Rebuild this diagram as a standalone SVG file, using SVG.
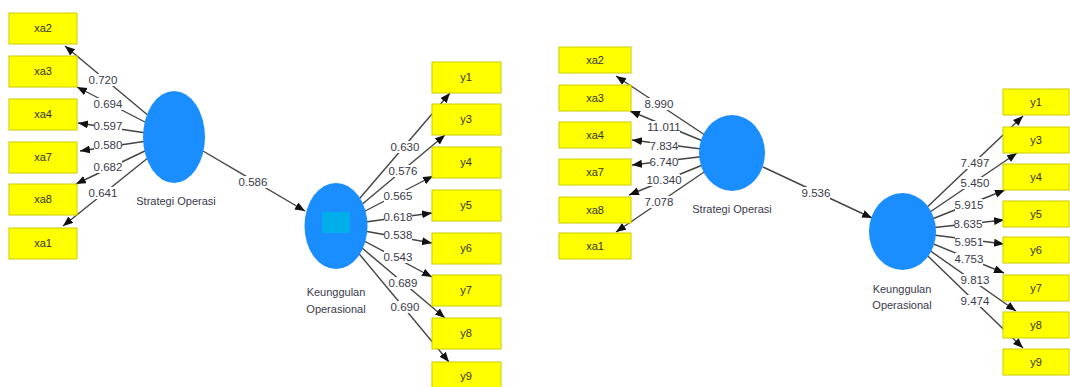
<svg xmlns="http://www.w3.org/2000/svg" width="1070" height="387" viewBox="0 0 1070 387">
  <defs>
    <marker id="arrow" markerUnits="userSpaceOnUse" markerWidth="11" markerHeight="9" refX="10" refY="4" orient="auto">
      <path d="M0,0 L10,4 L0,8 z" fill="#111"/>
    </marker>
    <style>
      .ind rect { fill: #ffff00; stroke: #cccc00; stroke-width: 1; }
      .ind text { font-family: "Liberation Sans", Arial, sans-serif; font-size: 11px; fill: #333; text-anchor: middle; }
      .lv ellipse { fill: #1b8eff; }
      .lv text { font-family: "Liberation Sans", Arial, sans-serif; font-size: 11px; fill: #3a3a4a; text-anchor: middle; }
      .edge line { stroke: #444; stroke-width: 1.4; marker-end: url(#arrow); }
      .lbl rect { fill: #fff; }
      .lbl text { font-family: "Liberation Sans", Arial, sans-serif; font-size: 11.5px; fill: #3a3a4a; text-anchor: middle; }
    </style>
  </defs>
  <rect width="1070" height="387" fill="#fff"/>

  <!-- connectors: outer loadings, path coefficients and their value labels -->
  <g id="connectors">
    <g class="edge">
      <!-- left model: Strategi Operasi -> xa indicators -->
      <line x1="174" y1="137" x2="65" y2="46"/>
      <line x1="174" y1="137" x2="77" y2="87"/>
      <line x1="174" y1="137" x2="78" y2="123"/>
      <line x1="174" y1="137" x2="80" y2="151"/>
      <line x1="174" y1="137" x2="76" y2="184"/>
      <line x1="174" y1="137" x2="63" y2="226"/>
      <!-- left model: structural path -->
      <line x1="203" y1="151" x2="305" y2="211"/>
      <!-- left model: Keunggulan Operasional -> y indicators -->
      <line x1="336" y1="226" x2="450" y2="93"/>
      <line x1="336" y1="226" x2="445" y2="135"/>
      <line x1="336" y1="226" x2="433" y2="176"/>
      <line x1="336" y1="226" x2="432" y2="213"/>
      <line x1="336" y1="226" x2="432" y2="243"/>
      <line x1="336" y1="226" x2="432" y2="277"/>
      <line x1="336" y1="226" x2="445" y2="318"/>
      <line x1="336" y1="226" x2="449" y2="362"/>

      <!-- right model: Strategi Operasi -> xa indicators -->
      <line x1="732" y1="153" x2="616" y2="76"/>
      <line x1="732" y1="153" x2="630" y2="111"/>
      <line x1="732" y1="153" x2="632" y2="140"/>
      <line x1="732" y1="153" x2="632" y2="165"/>
      <line x1="732" y1="153" x2="629" y2="195"/>
      <line x1="732" y1="153" x2="616" y2="232"/>
      <!-- right model: structural path -->
      <line x1="763" y1="167" x2="872" y2="218"/>
      <!-- right model: Keunggulan Operasional -> y indicators -->
      <line x1="902" y1="231" x2="1023" y2="116"/>
      <line x1="902" y1="231" x2="1017" y2="153"/>
      <line x1="902" y1="231" x2="1005" y2="190"/>
      <line x1="902" y1="231" x2="1004" y2="220"/>
      <line x1="902" y1="231" x2="1004" y2="244"/>
      <line x1="902" y1="231" x2="1004" y2="273"/>
      <line x1="902" y1="231" x2="1016" y2="311"/>
      <line x1="902" y1="231" x2="1023" y2="348"/>
    </g>

    <g class="lbl">
      <!-- left loadings -->
      <rect x="89" y="74" width="28" height="12"/><text x="103" y="84">0.720</text>
      <rect x="94" y="98" width="28" height="12"/><text x="108" y="108">0.694</text>
      <rect x="94" y="120" width="28" height="12"/><text x="108" y="130">0.597</text>
      <rect x="94" y="139" width="28" height="12"/><text x="108" y="149">0.580</text>
      <rect x="94" y="161" width="28" height="12"/><text x="108" y="171">0.682</text>
      <rect x="89" y="187" width="28" height="12"/><text x="103" y="197">0.641</text>
      <rect x="239" y="176" width="28" height="12"/><text x="253" y="186">0.586</text>
      <rect x="391" y="141" width="28" height="12"/><text x="405" y="151">0.630</text>
      <rect x="389" y="165" width="28" height="12"/><text x="403" y="175">0.576</text>
      <rect x="384" y="190" width="28" height="12"/><text x="398" y="200">0.565</text>
      <rect x="384" y="211" width="28" height="12"/><text x="398" y="221">0.618</text>
      <rect x="384" y="229" width="28" height="12"/><text x="398" y="239">0.538</text>
      <rect x="384" y="251" width="28" height="12"/><text x="398" y="261">0.543</text>
      <rect x="389" y="277" width="28" height="12"/><text x="403" y="287">0.689</text>
      <rect x="391" y="301" width="28" height="12"/><text x="405" y="311">0.690</text>

      <!-- right t-values -->
      <rect x="645" y="98" width="28" height="12"/><text x="659" y="108">8.990</text>
      <rect x="648" y="121" width="32" height="12"/><text x="664" y="131">11.011</text>
      <rect x="650" y="140" width="28" height="12"/><text x="664" y="150">7.834</text>
      <rect x="650" y="156" width="28" height="12"/><text x="664" y="166">6.740</text>
      <rect x="648" y="174" width="32" height="12"/><text x="664" y="184">10.340</text>
      <rect x="645" y="196" width="28" height="12"/><text x="659" y="206">7.078</text>
      <rect x="802" y="187" width="28" height="12"/><text x="816" y="197">9.536</text>
      <rect x="961" y="157" width="28" height="12"/><text x="975" y="167">7.497</text>
      <rect x="961" y="177" width="28" height="12"/><text x="975" y="187">5.450</text>
      <rect x="955" y="199" width="28" height="12"/><text x="969" y="209">5.915</text>
      <rect x="954" y="218" width="28" height="12"/><text x="968" y="228">8.635</text>
      <rect x="955" y="236" width="28" height="12"/><text x="969" y="246">5.951</text>
      <rect x="955" y="253" width="28" height="12"/><text x="969" y="263">4.753</text>
      <rect x="961" y="274" width="28" height="12"/><text x="975" y="284">9.813</text>
      <rect x="961" y="295" width="28" height="12"/><text x="975" y="305">9.474</text>
    </g>
  </g>

  <!-- left model: latent variables -->
  <g id="lv-strategi-l" class="lv">
    <ellipse cx="174" cy="137" rx="31" ry="46"/>
    <text x="176" y="205">Strategi Operasi</text>
  </g>
  <g id="lv-keunggulan-l" class="lv">
    <ellipse cx="336" cy="226" rx="31.5" ry="43"/>
    <rect x="322" y="212" width="28" height="21" fill="#00aeea"/>
    <text x="336" y="296">Keunggulan</text>
    <text x="336" y="313">Operasional</text>
  </g>

  <!-- left model: indicators -->
  <g id="l-xa2" class="ind"><rect x="9" y="13" width="68" height="31"/><text x="43" y="32">xa2</text></g>
  <g id="l-xa3" class="ind"><rect x="9" y="56" width="68" height="31"/><text x="43" y="75">xa3</text></g>
  <g id="l-xa4" class="ind"><rect x="9" y="99" width="68" height="31"/><text x="43" y="118">xa4</text></g>
  <g id="l-xa7" class="ind"><rect x="9" y="142" width="68" height="31"/><text x="43" y="161">xa7</text></g>
  <g id="l-xa8" class="ind"><rect x="9" y="184" width="68" height="31"/><text x="43" y="203">xa8</text></g>
  <g id="l-xa1" class="ind"><rect x="9" y="228" width="68" height="31"/><text x="43" y="247">xa1</text></g>

  <g id="l-y1" class="ind"><rect x="432" y="62" width="69" height="31"/><text x="466" y="81">y1</text></g>
  <g id="l-y3" class="ind"><rect x="432" y="104" width="69" height="31"/><text x="466" y="123">y3</text></g>
  <g id="l-y4" class="ind"><rect x="432" y="147" width="69" height="31"/><text x="466" y="166">y4</text></g>
  <g id="l-y5" class="ind"><rect x="432" y="190" width="69" height="31"/><text x="466" y="209">y5</text></g>
  <g id="l-y6" class="ind"><rect x="432" y="233" width="69" height="31"/><text x="466" y="252">y6</text></g>
  <g id="l-y7" class="ind"><rect x="432" y="275" width="69" height="31"/><text x="466" y="294">y7</text></g>
  <g id="l-y8" class="ind"><rect x="432" y="318" width="69" height="31"/><text x="466" y="337">y8</text></g>
  <g id="l-y9" class="ind"><rect x="432" y="362" width="69" height="31"/><text x="466" y="380">y9</text></g>

  <!-- right model: latent variables -->
  <g id="lv-strategi-r" class="lv">
    <ellipse cx="732" cy="153" rx="33" ry="38"/>
    <text x="732" y="213">Strategi Operasi</text>
  </g>
  <g id="lv-keunggulan-r" class="lv">
    <ellipse cx="902.5" cy="231.5" rx="33.5" ry="38.5"/>
    <text x="902" y="293">Keunggulan</text>
    <text x="902" y="309">Operasional</text>
  </g>

  <!-- right model: indicators -->
  <g id="r-xa2" class="ind"><rect x="559" y="47" width="72" height="26"/><text x="595" y="64">xa2</text></g>
  <g id="r-xa3" class="ind"><rect x="559" y="85" width="72" height="26"/><text x="595" y="102">xa3</text></g>
  <g id="r-xa4" class="ind"><rect x="559" y="122" width="72" height="26"/><text x="595" y="139">xa4</text></g>
  <g id="r-xa7" class="ind"><rect x="559" y="159" width="72" height="26"/><text x="595" y="176">xa7</text></g>
  <g id="r-xa8" class="ind"><rect x="559" y="197" width="72" height="26"/><text x="595" y="214">xa8</text></g>
  <g id="r-xa1" class="ind"><rect x="559" y="233" width="72" height="26"/><text x="595" y="250">xa1</text></g>

  <g id="r-y1" class="ind"><rect x="1003" y="89" width="66" height="26"/><text x="1036" y="106">y1</text></g>
  <g id="r-y3" class="ind"><rect x="1003" y="127" width="66" height="26"/><text x="1036" y="144">y3</text></g>
  <g id="r-y4" class="ind"><rect x="1003" y="164" width="66" height="26"/><text x="1036" y="181">y4</text></g>
  <g id="r-y5" class="ind"><rect x="1003" y="201" width="66" height="26"/><text x="1036" y="218">y5</text></g>
  <g id="r-y6" class="ind"><rect x="1003" y="237" width="66" height="26"/><text x="1036" y="254">y6</text></g>
  <g id="r-y7" class="ind"><rect x="1003" y="275" width="66" height="26"/><text x="1036" y="292">y7</text></g>
  <g id="r-y8" class="ind"><rect x="1003" y="312" width="66" height="26"/><text x="1036" y="329">y8</text></g>
  <g id="r-y9" class="ind"><rect x="1003" y="349" width="66" height="26"/><text x="1036" y="366">y9</text></g>
</svg>
